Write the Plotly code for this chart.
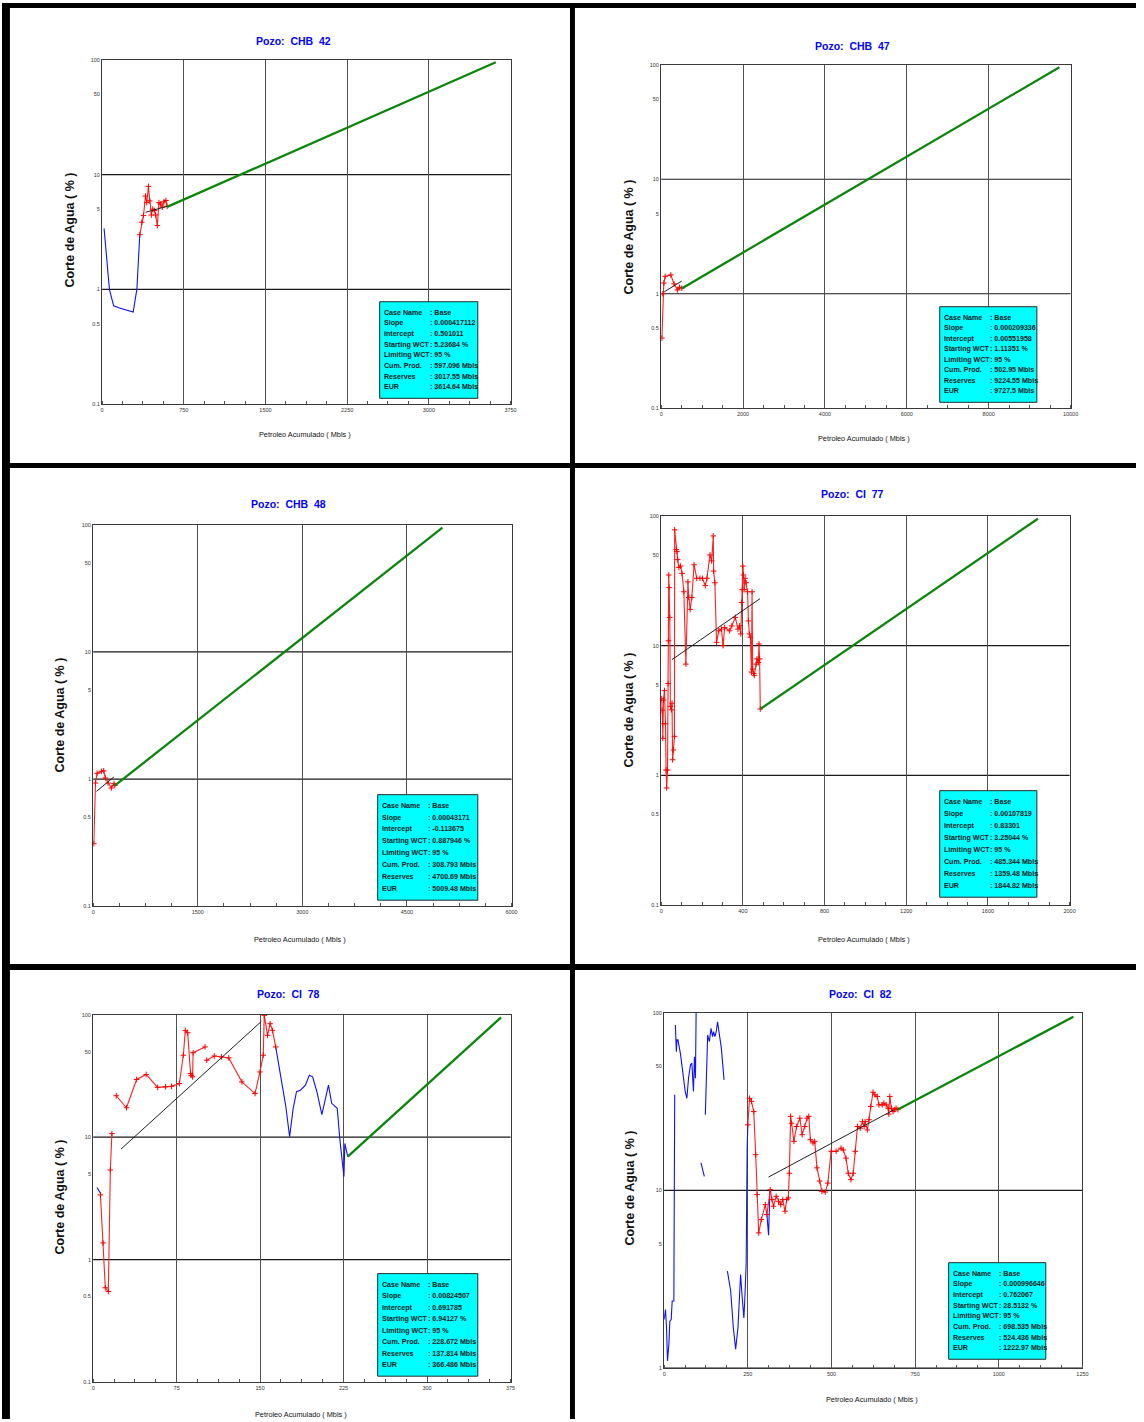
import math
import plotly.graph_objects as go

FIG_W, FIG_H = 1144, 1422

# ---------------- well data ----------------
wells = ["CHB  42", "CHB  47", "CHB  48", "CI  77", "CI  78", "CI  82"]

case_name = ["Base"] * 6
slope = [0.000417112, 0.000209336, 0.00043171, 0.00107819, 0.00824507, 0.000996646]
intercept = [0.501011, 0.00551958, -0.113675, 0.83301, 0.691785, 0.762067]
starting_wct = [5.23684, 1.11351, 0.887946, 3.25044, 6.94127, 28.5132]
limiting_wct = [95, 95, 95, 95, 95, 95]
cum_prod = [597.096, 502.95, 308.793, 485.344, 228.672, 698.535]
reserves = [3017.55, 9224.55, 4700.69, 1359.48, 137.814, 524.436]
eur = [3614.64, 9727.5, 5009.48, 1844.82, 366.486, 1222.97]

# CHB 42
chb42_blue_x = [18, 67, 106, 158, 285, 319, 346]
chb42_blue_y = [3.4, 1.0, 0.72, 0.69, 0.635, 1.0, 3.0]
chb42_red_x = [346, 364, 380, 398, 410, 425, 437, 452, 465, 480, 492, 507, 522, 537, 553, 568, 586, 597]
chb42_red_y = [3.0, 3.85, 4.4, 6.5, 5.7, 7.9, 5.9, 4.45, 5.0, 4.87, 4.45, 3.6, 5.7, 5.55, 5.2, 5.8, 5.95, 5.3]
chb42_fit_x = [400, 597]
chb42_fit_y = [4.7, 5.3]

# CHB 47
chb47_blue_x = []
chb47_blue_y = []
chb47_red_x = [17, 41, 65, 97, 235, 315, 397, 446, 503]
chb47_red_y = [0.41, 1.0, 1.24, 1.42, 1.46, 1.22, 1.08, 1.14, 1.12]
chb47_fit_x = [75, 500]
chb47_fit_y = [1.04, 1.29]

# CHB 48
chb48_blue_x = []
chb48_blue_y = []
chb48_red_x = [9, 33, 57, 118, 151, 175, 213, 260, 298, 309]
chb48_red_y = [0.31, 0.93, 1.11, 1.15, 1.16, 1.02, 0.93, 0.85, 0.92, 0.89]
chb48_fit_x = [47, 298]
chb48_fit_y = [0.80, 1.04]

# CI 77
ci77_blue_x = []
ci77_blue_y = []
ci77_red_x = [2, 5, 6.5, 8, 11, 16, 21, 24, 27, 31, 34, 35.5, 37, 39, 42, 45, 50, 53, 56, 60,
              65, 66, 73, 77, 81, 87, 95, 102, 111, 121, 131, 135, 142, 150, 161, 174, 190, 202, 216, 224,
              239, 247, 255, 257, 263, 271, 282, 295, 303, 311, 335, 346, 363, 376, 384, 390, 394, 397, 400, 403,
              406, 411, 416, 423, 427, 432, 437, 442, 445, 448, 453, 456, 465, 469, 476, 479, 482, 485.3]
ci77_red_y = [3.9, 3.18, 2.5, 1.93, 3.8, 4.5, 2.5, 1.1, 0.8, 1.1, 5.1, 10.9, 35, 28, 16.5, 3.4, 3.2, 3.6, 1.32, 1.57,
              2.0, 78, 55, 53, 46, 40, 41, 36, 26, 7.2, 31, 23.5, 19, 23.5, 42, 33, 33, 33, 29, 33,
              50, 45, 70, 37.5, 30.5, 10.6, 13, 13.4, 10, 13.8, 13, 14.2, 16.5, 13.4, 14.2, 12.3, 21.5, 27, 41, 35,
              27, 33, 30.5, 26, 15.5, 12.3, 11.6, 6.25, 26, 6.6, 6.1, 5.9, 7.2, 7.9, 7.4, 10.3, 7.9, 3.25]
ci77_fit_x = [53, 484]
ci77_fit_y = [7.8, 23.0]

# CI 78
ci78_blue_x = [3.5, 6.5, None,
               164, 168.5, 172.9, 176.5, 179.7, 182.7, 186.2, 190.7, 194.2, 197.2, 201, 205.5, 209.3, 211.4,
               214.3, 219.3, 221.7, 223.5, 225.3, 226.1, 228.7]
ci78_blue_y = [3.88, 3.49, None,
               54.6, 32, 18.3, 10.1, 17.2, 23.5, 24.2, 26.6, 32, 31.1, 23.5, 15.3, 21.4, 26.6,
               18.9, 17.2, 9.5, 6.3, 4.77, 8.9, 6.94]
ci78_red_x = [6.5, 8.9, 10.9, 13.6, 15.4, 16.8, None,
              20.7, 29.9, 39, 47.6, 57.9, 65, 70.4, 77.4, 81, 82.8, 84.9, 87.5, 88, 89.3, 89.8, 100.5, None,
              102, 108.8, 115.3, 121.8, 133.6, 145.4, 149.9, 152.8, 153.7, 156.7, 159, 161.1, 164]
ci78_red_y = [3.38, 1.37, 0.59, 0.55, 5.4, 10.7, None,
              21.8, 17.4, 29.6, 32.5, 25.5, 25.8, 26, 27.4, 46.7, 74.5, 71.3, 33.1, 32, 31.1, 49, 54.6, None,
              42.5, 46, 45.2, 44.4, 28.3, 22.7, 34.1, 46.7, 98.8, 67.9, 84.5, 74.5, 54.6]
ci78_fit_x = [25, 151]
ci78_fit_y = [8.0, 88.0]

# CI 82
ci82_blue_x = [0, 4, 7, 10, 14, 17, 21, 24, 29, 29.5, 31.5, None,
               33.5, 35.4, 36.4, 38.4, 41.3, 49.2, 56, 63, 67.9, 72.8, 78.7, 82.7, 87.6, 90.5, 93.5, 95.5, None,
               110, 120, None,
               123, 127, 130, 135, 140, 144.7, 147.6, 151.6, 155.5, 159.5, 164, 171, 179, None,
               189, 198.8, 206.7, 213.6, 220.5, 223.4, 228.4, 233.3, 238.2, 241.2, 245, 248, 250, None,
               307, 312, 316]
ci82_blue_y = [1.88, 2.14, 1.69, 1.1, 1.36, 1.84, 1.88, 2.39, 2.39, 3.37, 34.5, None,
               85.3, 70.3, 60.4, 70.3, 70.3, 57.9, 44.7, 36, 33, 42.8, 50.9, 52, 36, 56.6, 42.8, 100, None,
               14.3, 12, None,
               26.7, 43.7, 75, 68.7, 81.6, 73.3, 78.2, 73.3, 78.2, 89, 78.2, 63, 41.9, None,
               3.52, 2.72, 1.69, 1.28, 1.69, 2.39, 3.37, 2.49, 1.92, 2.49, 3.84, 17.3, 23.4, None,
               7.32, 5.6, 10]
ci82_red_x = [250, 255, 261, 267.7, 273.6, 277.6, 282.5, 290.4, 302.2, 307,
              317, 322, 326.8, 334.7, 341.6, 348.4, 354.4, 361.2, 366.2, 371,
              374, 377.9, 380.9, 387.8, 395.7, 405.5, 412.4, 420.3, 427.2, 432.1,
              437, 444.9, 449.8, 456.7, 464.6, 471.5, 481.3, 489.2, 499, 513.8,
              528.6, 535.4, 543.3, 550.2, 558.1, 565, 571, 577.8, 585.7, 592.6,
              597.5, 600.4, 607.3, 612.3, 617.2, 624, 630, 636.8, 641.8, 651.6,
              656.5, 663.4, 669.4, 671.3, 674.2, 679.1, 684, 689, 692.9, 698.5]
ci82_red_y = [23.4, 33, 31.7, 27.8, 15.9, 9.48, 5.77, 6.86, 8.32, 7.32,
              10.1, 8.89, 8.15, 9.27, 8.69, 8.32, 8.89, 7.64, 8.89, 9.08,
              12.5, 26.1, 23.9, 18.9, 22.9, 25.5, 20.6, 22.9, 25.5, 26.1,
              19.3, 18.5, 18.9, 13.4, 11.3, 9.89, 9.8, 11, 16.6, 16.6,
              17.3, 16.9, 15.2, 12.5, 11.5, 12.5, 16.6, 22.9, 22.4, 24.4,
              22.9, 24.4, 21.9, 25, 29.7, 35.7, 34.5, 33.8, 30.3, 30.3,
              31, 30.3, 29, 26.9, 33.8, 29, 27.8, 28.5, 29, 28.5]
ci82_fit_x = [312, 686]
ci82_fit_y = [11.9, 28.4]

blue_x = [chb42_blue_x, chb47_blue_x, chb48_blue_x, ci77_blue_x, ci78_blue_x, ci82_blue_x]
blue_y = [chb42_blue_y, chb47_blue_y, chb48_blue_y, ci77_blue_y, ci78_blue_y, ci82_blue_y]
red_x = [chb42_red_x, chb47_red_x, chb48_red_x, ci77_red_x, ci78_red_x, ci82_red_x]
red_y = [chb42_red_y, chb47_red_y, chb48_red_y, ci77_red_y, ci78_red_y, ci82_red_y]
fit_x = [chb42_fit_x, chb47_fit_x, chb48_fit_x, ci77_fit_x, ci78_fit_x, ci82_fit_x]
fit_y = [chb42_fit_y, chb47_fit_y, chb48_fit_y, ci77_fit_y, ci78_fit_y, ci82_fit_y]

x_max = [3750, 10000, 6000, 2000, 375, 1250]
x_step = [750, 2000, 1500, 400, 75, 250]
y_ticks = [0.1, 0.5, 1, 5, 10, 50, 100]
y_grid = [1, 10]

box_labels = ["Case Name", "Slope", "Intercept", "Starting WCT", "Limiting WCT",
              "Cum. Prod.", "Reserves", "EUR"]

# ---------------- page geometry (pixels) ----------------
# plot area: left, top, right, bottom
plot_px = [(101, 57, 513, 403), (665, 62, 1078, 407), (92, 524, 514, 907),
           (665, 515, 1077, 906), (92, 1016, 513, 1385), (668, 1014, 1090, 1371)]
y_lo = [0.1, 0.1, 0.1, 0.1, 0.1, 1]
title_px = [(294, 38), (858, 43), (289, 503), (858, 493), (289, 995), (866, 995)]
ytitle_px = [(69, 228), (633, 235), (58, 715), (633, 710), (58, 1199), (634, 1190)]
xtitle_px = [(306, 433), (870, 437), (301, 940), (870, 940), (302, 1417), (878, 1402)]
box_px = [(381, 300, 480, 397), (946, 305, 1044, 401), (379, 795, 480, 901),
          (946, 791, 1044, 898), (379, 1276, 480, 1379), (955, 1265, 1053, 1362)]


def px(x):
    return x / FIG_W


def py(y):
    return 1 - y / FIG_H


SANS = "Liberation Sans, Arial"
BOX_FONT = dict(family=SANS, size=7.1, color="#0d2222")

fig = go.Figure()
shapes = []
annotations = []
layout_axes = {}

for i in range(6):
    sfx = "" if i == 0 else str(i + 1)
    xa, ya = "x" + sfx, "y" + sfx

    # historical water cut (blue / red), fitted trend and forecast
    if blue_x[i]:
        fig.add_trace(go.Scatter(x=blue_x[i], y=blue_y[i], xaxis=xa, yaxis=ya, mode="lines",
                                 line=dict(color="#1010ff", width=1.1), connectgaps=False,
                                 hoverinfo="skip"))
    fig.add_trace(go.Scatter(x=red_x[i], y=red_y[i], xaxis=xa, yaxis=ya, mode="lines+markers",
                             line=dict(color="#ff2020", width=1.1), connectgaps=False,
                             marker=dict(symbol="cross-thin", size=4, color="#ff0000",
                                         line=dict(width=1, color="#ff0000")),
                             hoverinfo="skip"))
    fig.add_trace(go.Scatter(x=fit_x[i], y=fit_y[i], xaxis=xa, yaxis=ya, mode="lines",
                             line=dict(color="#202020", width=1), hoverinfo="skip"))
    fig.add_trace(go.Scatter(x=[cum_prod[i], eur[i]], y=[starting_wct[i], limiting_wct[i]],
                             xaxis=xa, yaxis=ya, mode="lines",
                             line=dict(color="#0a870a", width=2.3), hoverinfo="skip"))

    l, t, r, b = plot_px[i]
    n_major = int(round(x_max[i] / x_step[i]))
    xt = [x_step[i] * k for k in range(n_major + 1)]
    layout_axes["xaxis" + sfx] = dict(
        domain=[px(l), px(r)], anchor=ya, range=[0, x_max[i]],
        tickmode="array", tickvals=xt, ticktext=[f"{v:g}" for v in xt],
        showgrid=True, gridcolor="#505050", gridwidth=1, zeroline=False,
        showline=True, mirror=True, linecolor="#3a3a3a", linewidth=1.3,
        ticks="", tickfont=dict(family=SANS, size=5.5, color="#333"),
        minor=dict(dtick=x_step[i] / 4, tick0=0, ticks="inside", ticklen=3,
                   tickcolor="#555", tickwidth=1, showgrid=False),
    )
    yv = [v for v in y_ticks if v >= y_lo[i]]
    layout_axes["yaxis" + sfx] = dict(
        domain=[py(b), py(t)], anchor=xa, type="log",
        range=[math.log10(y_lo[i]), 2],
        tickmode="array", tickvals=yv, ticktext=[f"{v:g}" for v in yv],
        showgrid=False, zeroline=False,
        showline=True, mirror=True, linecolor="#3a3a3a", linewidth=1.3,
        ticks="", tickfont=dict(family=SANS, size=5.5, color="#333"),
    )
    for g in y_grid:
        shapes.append(dict(type="line", xref=xa + " domain", yref=ya, x0=0, x1=1, y0=g, y1=g,
                           line=dict(color="#1a1a1a", width=1.2), layer="below"))

    # titles
    tx, ty = title_px[i]
    annotations.append(dict(xref="paper", yref="paper", x=px(tx), y=py(ty), showarrow=False,
                            text="<b>Pozo:  " + wells[i] + "</b>", xanchor="center", yanchor="middle",
                            font=dict(family=SANS, size=10.5, color="#0000ff")))
    yx, yy = ytitle_px[i]
    annotations.append(dict(xref="paper", yref="paper", x=px(yx), y=py(yy), showarrow=False,
                            text="<b>Corte de Agua ( % )</b>", textangle=-90,
                            xanchor="center", yanchor="middle",
                            font=dict(family=SANS, size=12.5, color="#111")))
    xx, xy = xtitle_px[i]
    annotations.append(dict(xref="paper", yref="paper", x=px(xx), y=py(xy), showarrow=False,
                            text="Petroleo Acumulado ( Mbls )", xanchor="center", yanchor="middle",
                            font=dict(family=SANS, size=7.3, color="#111")))

    # summary box
    bx0, by0, bx1, by1 = box_px[i]
    shapes.append(dict(type="rect", xref="paper", yref="paper", x0=px(bx0), x1=px(bx1),
                       y0=py(by1), y1=py(by0), fillcolor="#00ffff",
                       line=dict(color="#2a2a2a", width=1), layer="above"))
    values = [case_name[i], str(slope[i]), str(intercept[i]),
              f"{starting_wct[i]:g} %", f"{limiting_wct[i]:g} %",
              f"{cum_prod[i]:g} Mbls", f"{reserves[i]:g} Mbls", f"{eur[i]:g} Mbls"]
    step = (by1 - by0 - 22) / 7
    for k in range(8):
        ly = by0 + 11 + k * step
        annotations.append(dict(xref="paper", yref="paper", x=px(bx0 + 2.5), y=py(ly), showarrow=False,
                                text="<b>" + box_labels[k] + "</b>", xanchor="left", yanchor="middle",
                                font=BOX_FONT))
        annotations.append(dict(xref="paper", yref="paper", x=px(bx0 + 48.5), y=py(ly), showarrow=False,
                                text="<b>: " + values[k] + "</b>", xanchor="left", yanchor="middle",
                                font=BOX_FONT))

# black frame separating the six panels
frame = [(0, 0, FIG_W, 5), (0, 0, 8, FIG_H), (573, 0, 578, FIG_H),
         (0, 462, FIG_W, 467), (0, 965, FIG_W, 971)]
for (x0, y0, x1, y1) in frame:
    shapes.append(dict(type="rect", xref="paper", yref="paper", x0=px(x0), x1=px(x1),
                       y0=py(y1), y1=py(y0), fillcolor="#000", line=dict(width=0), layer="above"))

fig.update_layout(
    width=FIG_W, height=FIG_H, margin=dict(l=0, r=0, t=0, b=0, pad=0),
    paper_bgcolor="white", plot_bgcolor="white", showlegend=False,
    shapes=shapes, annotations=annotations, **layout_axes,
)

fig.write_html("out.html")
